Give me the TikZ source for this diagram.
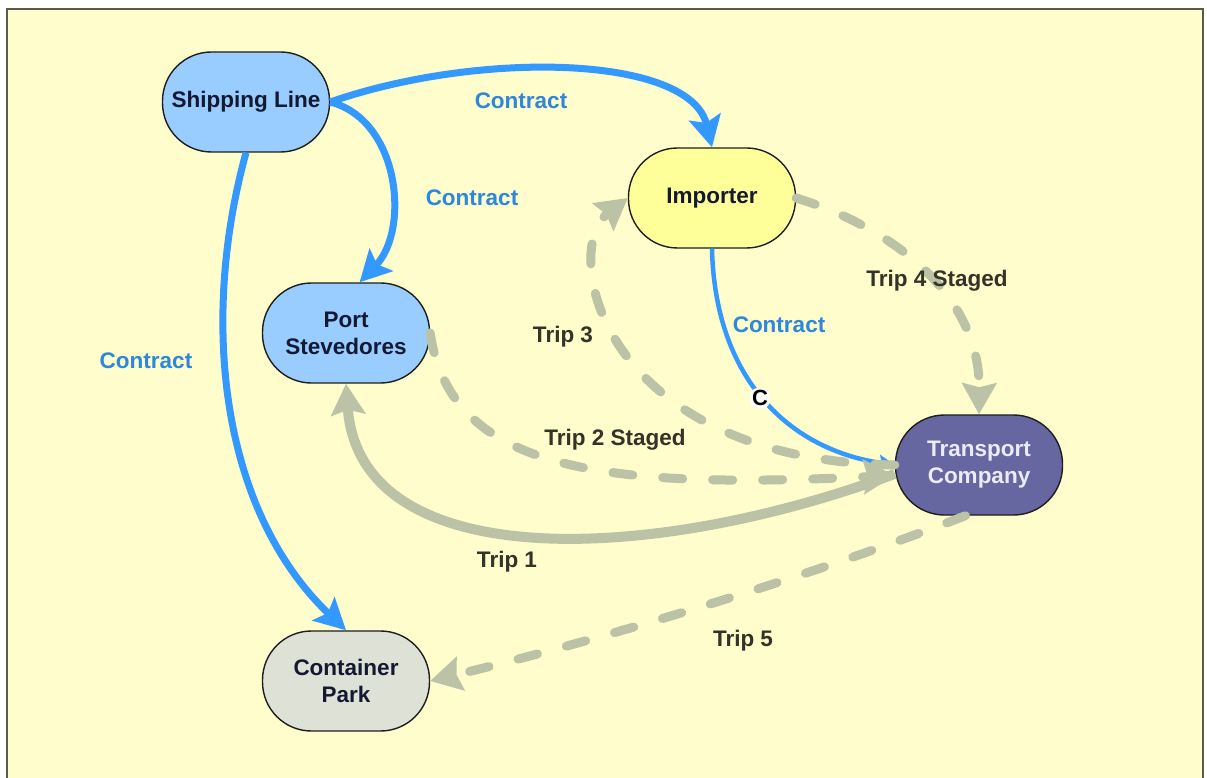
\documentclass[tikz,border=0pt]{standalone}
\usepackage{fontspec}
\setmainfont{Liberation Sans}
\usetikzlibrary{arrows.meta}

\definecolor{bgyellow}{RGB}{255,253,204}
\definecolor{framegray}{RGB}{90,90,80}
\definecolor{nodeline}{RGB}{30,30,30}
\definecolor{nodetext}{RGB}{20,25,50}
\definecolor{lightblue}{RGB}{153,204,255}
\definecolor{paleyellow}{RGB}{255,255,153}
\definecolor{slate}{RGB}{102,102,160}
\definecolor{slatetext}{RGB}{235,235,250}
\definecolor{parkgray}{RGB}{221,225,214}
\definecolor{contractblue}{RGB}{51,153,255}
\definecolor{labelblue}{RGB}{45,135,220}
\definecolor{tripgreen}{RGB}{188,194,165}
\definecolor{labelgray}{RGB}{51,51,40}

\begin{document}
\begin{tikzpicture}[x=1pt,y=-1pt,
  entity/.style={draw=nodeline, line width=1.4pt, rounded corners=49pt,
    minimum width=167pt, minimum height=100pt, inner sep=0pt, align=center,
    font=\fontsize{22.5}{27}\selectfont\bfseries, text=nodetext},
  contract/.style={draw=contractblue, line width=7pt,
    -{Stealth[length=31pt,width=32pt,inset=6pt]}},
  contractthin/.style={draw=contractblue, line width=4.5pt,
    -{Stealth[length=16pt,width=16pt,inset=3pt]}},
  tripsolid/.style={draw=tripgreen, line width=10pt,
    -{Stealth[length=31pt,width=34pt,inset=5pt]}},
  tripdash/.style={draw=tripgreen, line width=9pt, line cap=round,
    dash pattern=on 20pt off 30pt,
    -{Stealth[length=31pt,width=34pt,inset=4pt]}},
  clabel/.style={text=labelblue, font=\fontsize{22.5}{27}\selectfont\bfseries, inner sep=1pt},
  tlabel/.style={text=labelgray, font=\fontsize{22.5}{27}\selectfont\bfseries, inner sep=1pt}
]
\useasboundingbox (0,0) rectangle (1207,778);
\clip (0,0) rectangle (1207,778);
\fill[white] (0,0) rectangle (1207,778);
\filldraw[fill=bgyellow, draw=framegray, line width=2pt] (7,9) rectangle (1203,800);

% parties
\node[entity, fill=lightblue]  (sl)  at (246,102) {Shipping Line};
\node[entity, fill=paleyellow] (imp) at (712,198) {Importer};
\node[entity, fill=lightblue]  (ps)  at (346,333) {Port\\Stevedores};
\node[entity, fill=slate, text=slatetext] (tc) at (979,465) {Transport\\Company};
\node[entity, fill=parkgray]   (cp)  at (346,681) {Container\\Park};

% contracts
\draw[contract] (sl.east) .. controls (480,50) and (690,55) .. (imp.north);
\draw[contract] (sl.east) .. controls (400,120) and (410,230) .. (ps.75);
\draw[contract] (sl.south) .. controls (200,320) and (220,510) .. (cp.north);
\draw[contractthin] (imp.south) .. controls (715,380) and (790,450) .. (tc.west);

% trips
\draw[tripsolid] (tc.186) .. controls (650,565) and (360,575) .. (ps.south);
\draw[tripdash] (ps.east) .. controls (450,470) and (600,490) .. (tc.187);
\draw[tripdash] (tc.180) .. controls (600,460) and (560,250) .. (imp.west);
\draw[tripdash] (imp.east) .. controls (900,230) and (980,300) .. (tc.north);
\draw[tripdash] (tc.255) .. controls (800,580) and (600,640) .. (cp.east);

% edge labels
\node[clabel] (l1) at (521,101) {Contract};
\node[clabel] (l2) at (472,198) {Contract};
\node[clabel] (l3) at (146,361) {Contract};
\node[clabel] (l4) at (779,325) {Contract};
\node[fill=white, rounded corners=7pt, inner sep=2pt, text=black,
      font=\fontsize{22}{26}\selectfont\bfseries] (lc) at (760,398) {C};
\node[tlabel] (t1) at (507,562) {Trip 1};
\node[tlabel] (t2) at (615,440) {Trip 2 Staged};
\node[tlabel] (t3) at (563,337) {Trip 3};
\node[tlabel] (t4) at (937,281) {Trip 4 Staged};
\node[tlabel] (t5) at (743,641) {Trip 5};
\end{tikzpicture}
\end{document}
